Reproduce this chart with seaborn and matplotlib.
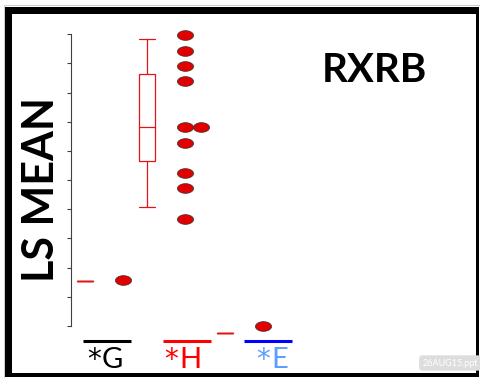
import numpy as np
import pandas as pd
import matplotlib
matplotlib.use("Agg")
import matplotlib.pyplot as plt
from matplotlib.patches import Rectangle
from matplotlib.markers import MarkerStyle
import seaborn as sns

# ---------------- data ----------------
groups = ["G", "H", "E"]
# summary lines / boxes per group (H: min, q1, median, q3, max)
g_box = [1.53]
h_box = [4.09, 5.66, 6.81, 8.63, 9.83]
e_box = [-0.25]
# individual points per group
g_points = [1.59]
h_points = [9.98, 9.44, 8.91, 8.39, 6.83, 6.83, 6.28, 5.26, 4.73, 3.67]
e_points = [0.01]
y_ticks = list(range(0, 11))
title = "RXRB"
y_label = "LS MEAN"
group_letters = ["G", "H", "E"]
label_mark = "*"

# ---------------- layout / style ----------------
W, H = 480, 378
group_x = {"G": 0.0, "H": 1.0, "E": 2.258}   # horizontal placement (layout)
pt_offset = 0.62                             # points drawn to the right of box
stack_step = 0.255                           # repeated values placed side by side
red = "#e00000"
box_red = "#e31414"
label_colors = ["#000000", "#ff0000", "#5e9eff"]
line_colors = ["#000000", "#ff0000", "#0000ff"]
line_centers_px = [106.5, 187.0, 267.5]
letter_left_px = [102, 179, 271]

sns.set_style("white")
plt.rcParams["font.family"] = ["Lato", "DejaVu Sans"]

fig = plt.figure(figsize=(W / 100, H / 100), dpi=100)
fig.patch.set_facecolor("white")

def fx(px):
    return px / W

def fy(py):
    return 1 - py / H

ax = fig.add_axes([fx(71), fy(326), fx(471) - fx(71), (326 - 34.3) / H])

# boxes / median dashes
box_df = pd.DataFrame({
    "x": [group_x["G"]] * len(g_box) + [group_x["H"]] * len(h_box) + [group_x["E"]] * len(e_box),
    "y": g_box + h_box + e_box,
})
sns.boxplot(data=box_df, x="x", y="y", native_scale=True, fill=False,
            color=box_red, linecolor=box_red, saturation=1, width=0.25,
            linewidth=0.9, whis=1.5, capwidths=0.25, showfliers=False, ax=ax)
for ln in ax.lines:
    ln.set_color(box_red)

# points
rows = []
for g, vals in zip(groups, [g_points, h_points, e_points]):
    seen = {}
    for v in vals:
        k = seen.get(v, 0)
        seen[v] = k + 1
        rows.append({"x": group_x[g] + pt_offset + k * stack_step, "y": v})
pts = pd.DataFrame(rows)
t = np.linspace(0, 2 * np.pi, 60)
ellipse = MarkerStyle(list(zip(np.cos(t), 0.6 * np.sin(t))))
sns.scatterplot(data=pts, x="x", y="y", marker=ellipse, s=135, color=red,
                edgecolor="#333333", linewidth=0.5, zorder=5, ax=ax)

for art in list(ax.lines) + list(ax.collections) + list(ax.patches):
    art.set_clip_on(False)

ax.set_xlim(-14 / 62, 386 / 62)
ax.set_ylim(0, 10)
ax.set_yticks(y_ticks)
ax.set_yticklabels([])
ax.set_xticks([])
ax.set_xlabel("")
ax.set_ylabel("")
for s in ["top", "right", "bottom"]:
    ax.spines[s].set_visible(False)
ax.spines["left"].set_color("#404040")
ax.spines["left"].set_linewidth(0.8)
ax.tick_params(axis="y", direction="out", length=3, width=0.8, color="#404040", left=True)
ax.patch.set_alpha(0)

# y label and title
fig.text(fx(41), fy(190), y_label, rotation=90, ha="center", va="center",
         fontsize=31, fontweight="bold", color="black")
fig.text(fx(374), fy(82), title, ha="center", va="baseline",
         fontsize=29, fontweight="bold", color="black")

# group labels with bars
for letter, cx, lx, tc, lc in zip(group_letters, line_centers_px, letter_left_px,
                                  label_colors, line_colors):
    fig.add_artist(plt.Line2D([fx(cx - 24), fx(cx + 24)], [fy(341), fy(341)],
                              color=lc, linewidth=2.2, solid_capstyle="butt"))
    fig.text(fx(lx - 1), fy(368), label_mark, ha="right", va="baseline",
             fontsize=20, color=tc, family=["DejaVu Sans"])
    fig.text(fx(lx), fy(368), letter, ha="left", va="baseline",
             fontsize=21, color=tc)

# frame
for (x0, y0, x1, y1) in [(5, 7, 12, 377), (5, 7, 479, 14), (476, 7, 479, 377), (5, 373, 479, 377)]:
    fig.add_artist(Rectangle((fx(x0), fy(y1)), fx(x1) - fx(x0), fy(y0) - fy(y1),
                             transform=fig.transFigure, facecolor="black",
                             edgecolor="none", zorder=10))
fig.add_artist(plt.Line2D([fx(4), fx(4)], [fy(5), fy(378)], color="#cccccc", linewidth=0.8))
fig.add_artist(plt.Line2D([fx(4), fx(480)], [fy(5), fy(5)], color="#cccccc", linewidth=0.8))

# watermark
fig.text(fx(450), fy(363), "26AUG15.ppt", ha="center", va="center", fontsize=6.5,
         color="white", zorder=11,
         bbox=dict(boxstyle="round,pad=0.35", facecolor="#dddddd", edgecolor="none"))

fig.savefig("out.png", dpi=100)
